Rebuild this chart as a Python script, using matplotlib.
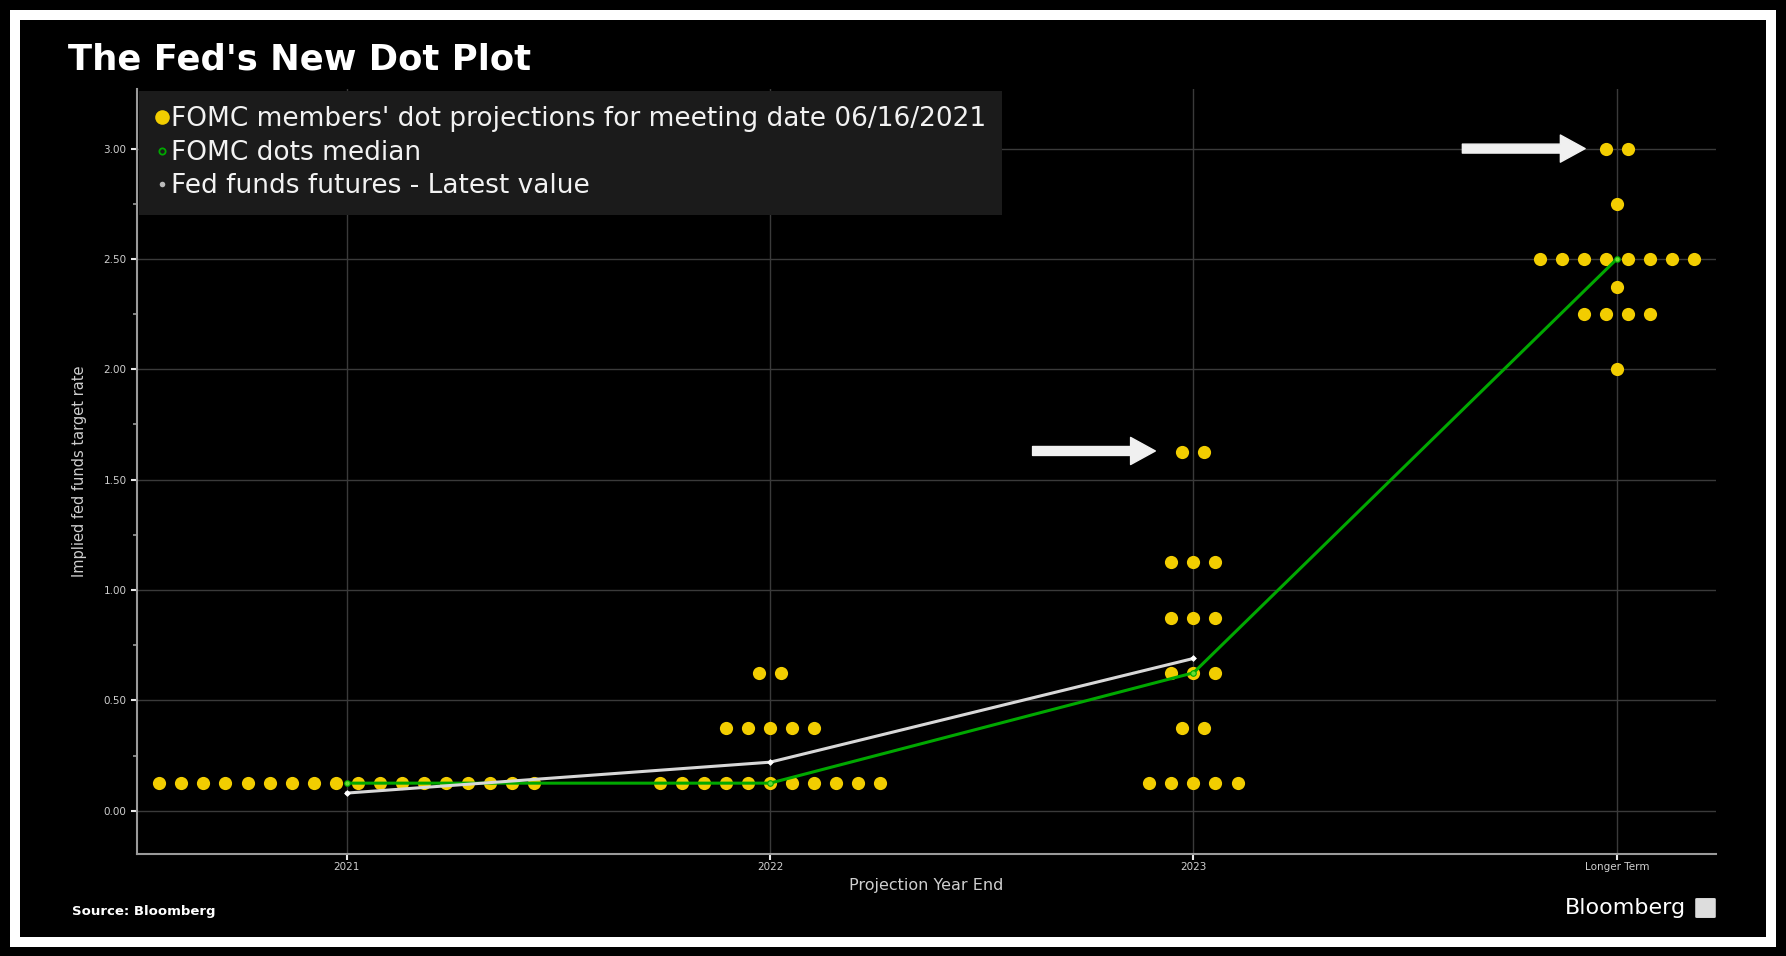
import matplotlib
matplotlib.use("Agg")
import matplotlib.pyplot as plt
from matplotlib.patches import Rectangle, FancyBboxPatch
from matplotlib.lines import Line2D
import numpy as np

# ---------------- data ----------------
categories = ["2021", "2022", "2023", "Longer Term"]

dot_rates_2021 = [0.125]
dot_counts_2021 = [18]
dot_rates_2022 = [0.125, 0.375, 0.625]
dot_counts_2022 = [11, 5, 2]
dot_rates_2023 = [0.125, 0.375, 0.625, 0.875, 1.125, 1.625]
dot_counts_2023 = [5, 2, 3, 3, 3, 2]
dot_rates_lt = [2.0, 2.25, 2.375, 2.5, 2.75, 3.0]
dot_counts_lt = [1, 4, 1, 8, 1, 2]

median_values = [0.125, 0.125, 0.625, 2.5]
futures_values = [0.08, 0.22, 0.69]

y_ticks = [0.0, 0.5, 1.0, 1.5, 2.0, 2.5, 3.0]
y_tick_labels = ["0.00", "0.50", "1.00", "1.50", "2.00", "2.50", "3.00"]

legend_labels = ["FOMC members' dot projections for meeting date 06/16/2021",
                 "FOMC dots median",
                 "Fed funds futures - Latest value"]

# annotation arrows: (tail_x, tip_x, y)
arrow_specs = [(1.62, 1.91, 1.63), (2.635, 2.925, 3.0)]

# ---------------- figure ----------------
W, H = 1786, 956
fig = plt.figure(figsize=(W / 100, H / 100), dpi=100, facecolor="black")

# white frame
fig.patches.append(Rectangle((15 / W, 14 / H), 1 - 30 / W, 1 - 29 / H,
                             transform=fig.transFigure, fill=False,
                             edgecolor="white", linewidth=7.2, zorder=0))

ax = fig.add_axes([137 / W, 1 - 854 / H, (1716 - 137) / W, (854 - 89) / H])
ax.set_facecolor("black")

dot_color = "#F2CD00"
spacing = 0.052
all_rates = [dot_rates_2021, dot_rates_2022, dot_rates_2023, dot_rates_lt]
all_counts = [dot_counts_2021, dot_counts_2022, dot_counts_2023, dot_counts_lt]
for ci, (rates, counts) in enumerate(zip(all_rates, all_counts)):
    for r, n in zip(rates, counts):
        xs = ci + (np.arange(n) - (n - 1) / 2) * spacing
        ax.plot(xs, [r] * n, "o", color=dot_color, markersize=9.5,
                markeredgewidth=0, zorder=3, linestyle="none")

xpos = np.arange(len(categories))
ax.plot(xpos, median_values, color="#00A800", lw=2.2, zorder=4,
        marker="o", markersize=4, markerfacecolor="#66dd33",
        markeredgecolor="#00A800", markeredgewidth=0.8)
ax.plot(xpos[:len(futures_values)], futures_values, color="#d8d8d8", lw=2.2,
        zorder=5, marker="D", markersize=3.5, markerfacecolor="white",
        markeredgewidth=0)

for tail, tip, yv in arrow_specs:
    ax.annotate("", xy=(tip, yv), xytext=(tail, yv),
                arrowprops=dict(arrowstyle="simple,tail_width=0.38,head_width=1.15,head_length=1.05",
                                mutation_scale=17, color="#f0f0f0",
                                shrinkA=0, shrinkB=0), zorder=6)

ax.set_xlim(-0.495, 3.234)
ax.set_ylim(-0.196, 3.27)
ax.set_xticks(xpos)
ax.set_xticklabels(categories)
ax.set_yticks(y_ticks)
ax.set_yticklabels(y_tick_labels)
ax.set_yticks(np.arange(0.25, 3.25, 0.5), minor=True)

ax.grid(True, which="major", color="#3a3a3a", lw=1.0)
for s in ["top", "right"]:
    ax.spines[s].set_visible(False)
for s in ["left", "bottom"]:
    ax.spines[s].set_color("#9a9a9a")
    ax.spines[s].set_linewidth(1.5)
ax.tick_params(axis="both", which="major", colors="#e8e8e8", labelcolor="#cfcfcf",
               labelsize=7.5, length=4, width=1.5)
ax.tick_params(axis="y", which="minor", colors="#9a9a9a", length=3, width=1.2)
ax.tick_params(axis="x", pad=2)

ax.set_xlabel("Projection Year End", color="#cfcfcf", fontsize=11.5, labelpad=4)
ax.set_ylabel("Implied fed funds target rate", color="#cfcfcf", fontsize=10.5, labelpad=12)

handles = [
    Line2D([], [], marker="o", color=dot_color, markersize=10.5, linestyle="none", markeredgewidth=0),
    Line2D([], [], marker="o", color="#00A800", markerfacecolor="none", markersize=4.5,
           linestyle="none", markeredgewidth=1.3),
    Line2D([], [], marker="o", color="#bbbbbb", markersize=4, linestyle="none", markeredgewidth=0),
]
leg = ax.legend(handles, legend_labels, loc="upper left", bbox_to_anchor=(0.0015, 0.998),
                frameon=True, facecolor="#1b1b1b", edgecolor="none", framealpha=1,
                fontsize=19, labelcolor="#f2f2f2", handlelength=0.5, handletextpad=0.1,
                labelspacing=0.28, borderpad=0.6, borderaxespad=0, fancybox=False)
leg.set_zorder(7)

fig.text(68 / W, 1 - 59 / H, "The Fed's New Dot Plot", color="white", fontsize=25.5,
         fontweight="bold", va="center", ha="left")
fig.text(72 / W, 1 - 911 / H, "Source: Bloomberg", color="white", fontsize=9.5,
         fontweight="bold", va="center", ha="left")
fig.text(1686 / W, 1 - 908 / H, "Bloomberg", color="white", fontsize=16,
         va="center", ha="right")
fig.patches.append(FancyBboxPatch((1697 / W, 1 - 917 / H), 17 / W, 18 / H,
                                  boxstyle="round,pad=0.001", transform=fig.transFigure,
                                  facecolor="#dddddd", edgecolor="none"))

fig.savefig("out.png", dpi=100, facecolor="black")
